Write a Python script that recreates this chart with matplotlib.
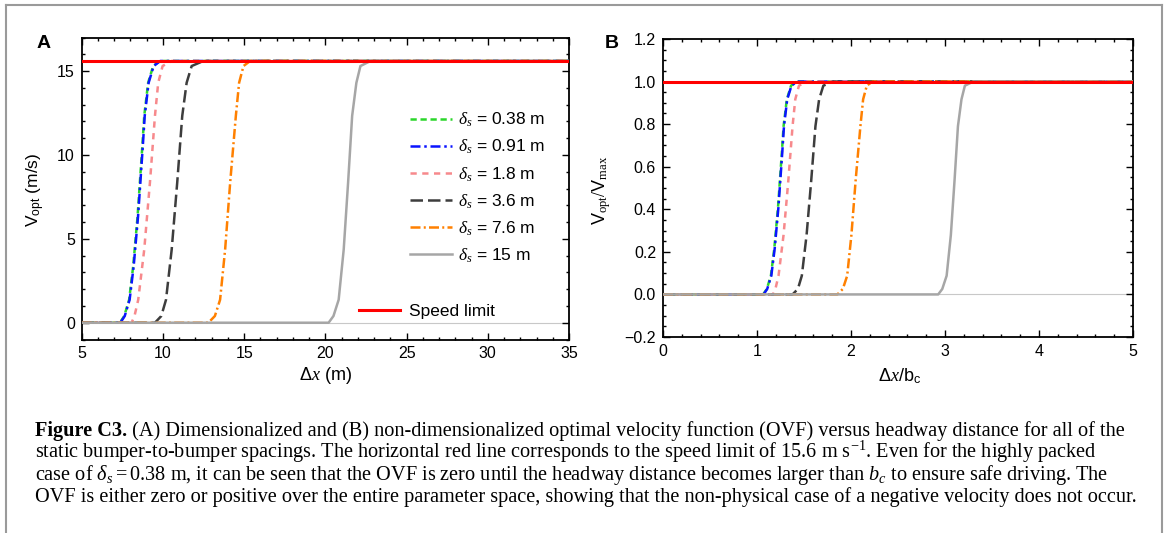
import matplotlib
matplotlib.use("Agg")
import matplotlib.pyplot as plt
from matplotlib.lines import Line2D
from matplotlib.ticker import MultipleLocator

plt.rcParams['font.family'] = ['Liberation Sans', 'DejaVu Sans']
plt.rcParams['mathtext.fontset'] = 'custom'
plt.rcParams['mathtext.rm'] = 'Liberation Serif'
plt.rcParams['mathtext.it'] = 'Liberation Serif:italic'
plt.rcParams['mathtext.bf'] = 'Liberation Serif:bold'
plt.rcParams['mathtext.sf'] = 'Liberation Sans'
plt.rcParams['mathtext.fallback'] = 'stix'

# --- data (panel A units: headway in m, speed in m/s) ---
spacings = ['0.38', '0.91', '1.8', '3.6', '7.6', '15']

x_038 = [5, 7.35, 7.62, 7.92, 8.17, 8.44, 8.58, 8.72, 8.85, 9.09, 9.40, 9.81, 35]
y_038 = [0, 0, 0.4, 1.37, 3.37, 6.35, 8.35, 10.34, 12.33, 14.3, 15.3, 15.6, 15.6]
x_091 = [5, 7.38, 7.65, 7.95, 8.20, 8.47, 8.61, 8.75, 8.88, 9.12, 9.43, 9.84, 35]
y_091 = [0, 0, 0.4, 1.37, 3.37, 6.35, 8.35, 10.34, 12.33, 14.3, 15.3, 15.6, 15.6]
x_18 = [5, 8.07, 8.25, 8.48, 8.85, 9.20, 9.51, 9.71, 9.98, 10.54, 35]
y_18 = [0, 0, 0.4, 1.37, 4.36, 8.35, 12.33, 14.3, 15.3, 15.6, 15.6]
x_36 = [5, 9.51, 9.90, 10.19, 10.54, 10.88, 11.19, 11.46, 11.77, 12.49, 35]
y_36 = [0, 0, 0.4, 1.37, 4.36, 8.35, 12.33, 14.3, 15.3, 15.6, 15.6]
x_76 = [5, 12.80, 13.20, 13.52, 13.83, 14.14, 14.49, 14.69, 14.96, 15.37, 35]
y_76 = [0, 0, 0.4, 1.37, 4.36, 8.35, 12.33, 14.3, 15.3, 15.6, 15.6]
x_15 = [5, 20.20, 20.50, 20.82, 21.13, 21.40, 21.65, 21.91, 22.16, 22.78, 35]
y_15 = [0, 0, 0.4, 1.37, 4.36, 8.35, 12.33, 14.3, 15.3, 15.6, 15.6]

speed_limit = 15.6   # m/s
b_c = 6.9            # m, scale used for panel B

curves = [(x_038, y_038), (x_091, y_091), (x_18, y_18),
          (x_36, y_36), (x_76, y_76), (x_15, y_15)]
colors = ['#2bd62b', '#0a14ff', '#f7898c', '#3d3d3d', '#ff8000', '#a6a6a6']
dashes = [(2.5, 1.5), (4, 1.5, 1, 1.5), (2.5, 2.2), (5, 2), (4, 1.3, 0.8, 1.3), None]

W, H = 1168, 533


def fx(px):
    return px / W


def fy(py):
    return 1 - py / H


fig = plt.figure(figsize=(W / 100, H / 100), dpi=100)

axA = fig.add_axes([fx(81.7), fy(339.5), (569 - 81.7) / W, (339.5 - 37.5) / H])
axB = fig.add_axes([fx(663), fy(337), (1133 - 663) / W, (337 - 39) / H])

for ax in (axA, axB):
    ax.axhline(0, color='#c8c8c8', lw=0.8, zorder=1)

handles = []
for (xs, ys), c, d, s in zip(curves, colors, dashes, spacings):
    kw = dict(color=c, lw=1.8, zorder=3)
    if d is not None:
        kw['dashes'] = d
    h, = axA.plot(xs, ys, label=r'$\delta_s$ = ' + s + ' m', **kw)
    handles.append(h)
    # panel B: same curves, normalised; extended to x = 0
    xb = [0] + [v / b_c for v in xs]
    yb = [0] + [v / speed_limit for v in ys]
    axB.plot(xb, yb, **kw)

red, = axA.plot([5, 35], [speed_limit, speed_limit], color='#ff0000', lw=2.2,
                zorder=5, label='Speed limit')
axB.plot([0, 5], [1, 1], color='#ff0000', lw=2.2, zorder=5)

axA.set_xlim(5, 35)
axA.set_ylim(-1, 17)
axA.xaxis.set_major_locator(MultipleLocator(5))
axA.xaxis.set_minor_locator(MultipleLocator(1))
axA.yaxis.set_major_locator(MultipleLocator(5))
axA.yaxis.set_minor_locator(MultipleLocator(1))

axB.set_xlim(0, 5)
axB.set_ylim(-0.2, 1.2)
axB.xaxis.set_major_locator(MultipleLocator(1))
axB.xaxis.set_minor_locator(MultipleLocator(0.2))
axB.yaxis.set_major_locator(MultipleLocator(0.2))
axB.yaxis.set_minor_locator(MultipleLocator(0.05))
axB.yaxis.set_major_formatter(lambda v, p: f'{v:.1f}'.replace('-', '\u2212'))

for ax in (axA, axB):
    ax.tick_params(which='both', direction='in', top=True, right=True,
                   labelsize=11.5, width=1)
    ax.tick_params(which='major', length=5, pad=5)
    ax.tick_params(which='minor', length=2.5)
    for sp in ax.spines.values():
        sp.set_linewidth(1.3)

# legends
leg1 = axA.legend(handles=handles, loc='upper left',
                  bbox_to_anchor=(fx(410), fy(111)), bbox_transform=fig.transFigure,
                  frameon=False, fontsize=12.5, borderpad=0, borderaxespad=0,
                  handlelength=2.4, handletextpad=0.35, labelspacing=0.5)
axA.add_artist(leg1)
axA.legend(handles=[red], loc='center left',
           bbox_to_anchor=(fx(358.6), fy(311)), bbox_transform=fig.transFigure,
           frameon=False, fontsize=12.5, borderpad=0, borderaxespad=0,
           handlelength=2.4, handletextpad=0.5)

# axis labels and panel letters
fig.text(fx(44), fy(43), 'A', fontsize=14, weight='bold', ha='center', va='center')
fig.text(fx(612), fy(43), 'B', fontsize=14, weight='bold', ha='center', va='center')
fig.text(fx(36), fy(190), r'V$_{\mathsf{opt}}$ (m/s)', fontsize=12.5, rotation=90,
         ha='center', va='center')
fig.text(fx(602), fy(190), r'$\mathsf{V}_{\mathrm{opt}}/\mathsf{V}_{\mathrm{max}}$',
         fontsize=13, rotation=90, ha='center', va='center')
fig.text(fx(325), fy(376), r'Δ$x$ (m)', fontsize=13, ha='center', va='center')
fig.text(fx(900), fy(376), r'Δ$x$/b$_{\mathsf{c}}$', fontsize=13, ha='center', va='center')

# frame round the figure
frame = dict(color='#9a9a9a', lw=1.5, transform=fig.transFigure)
fig.add_artist(Line2D([fx(6), fx(6)], [0, fy(5)], **frame))
fig.add_artist(Line2D([fx(6), fx(1162)], [fy(5), fy(5)], **frame))
fig.add_artist(Line2D([fx(1162), fx(1162)], [fy(5), 0], **frame))

# caption
cap_bold = 'Figure C3.'
cap_lines = [
    ' (A) Dimensionalized and (B) non-dimensionalized optimal velocity function (OVF) '
    'versus headway distance for all of the',
    r'static bumper-to-bumper spacings. The horizontal red line corresponds to the speed '
    r'limit of 15.6 m s$^{-1}$. Even for the highly packed',
    r'case of $\delta_s = 0.38$ m, it can be seen that the OVF is zero until the headway '
    r'distance becomes larger than $b_c$ to ensure safe driving. The',
    'OVF is either zero or positive over the entire parameter space, showing that the '
    'non-physical case of a negative velocity does not occur.',
]
baselines = [436, 458, 480, 502]
cap_fs = 14.6
serif = ['Liberation Serif', 'DejaVu Serif']

fig.canvas.draw()
r = fig.canvas.get_renderer()
tb = fig.text(fx(35), fy(baselines[0]), cap_bold, fontsize=cap_fs, weight='bold',
              family=serif, va='baseline')
x_after = tb.get_window_extent(r).x1
for i, (line, yb) in enumerate(zip(cap_lines, baselines)):
    x0 = x_after / W if i == 0 else fx(35)
    fig.text(x0, fy(yb), line, fontsize=cap_fs, family=serif, va='baseline')

fig.savefig('out.png', dpi=100)
